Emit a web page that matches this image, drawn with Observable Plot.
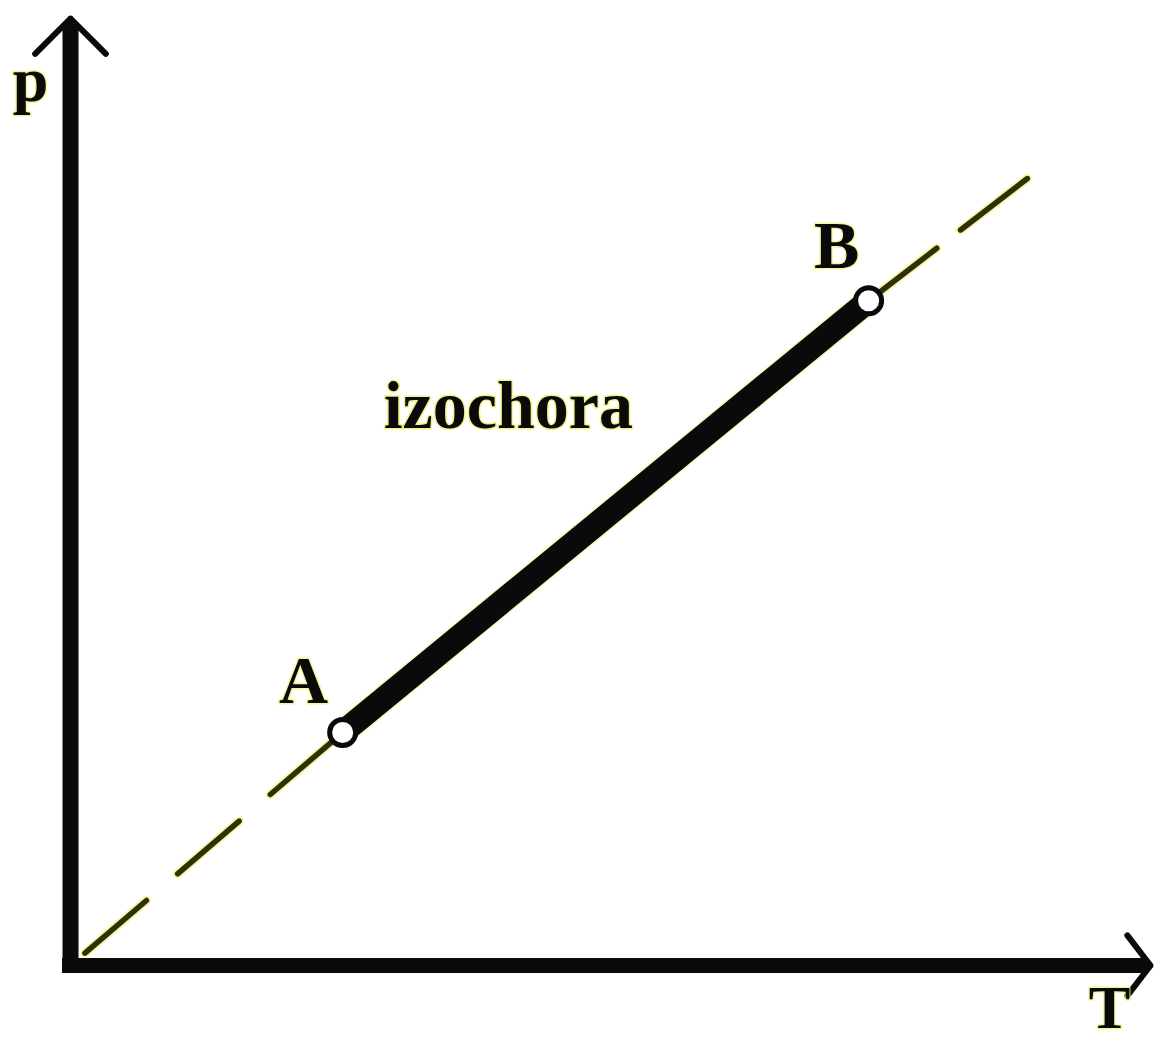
<!DOCTYPE html>
<html>
<head>
<meta charset="utf-8">
<script src="https://cdn.jsdelivr.net/npm/d3@7"></script>
<script src="https://cdn.jsdelivr.net/npm/@observablehq/plot@0.6"></script>
<style>
  html, body { margin: 0; padding: 0; background: #ffffff; }
  #chart svg { display: block; }
</style>
</head>
<body>
<div id="chart"></div>
<script>
// --- data (schematic p–T diagram, arbitrary units) ---
const isoT = [0, 2.52, 7.39, 8.86];      // isochore: origin, A, B, end of dashed line
const isoP = [0, 2.46, 7.02, 8.31];
const pointNames = ["A", "B"];
const pointT = [2.52, 7.39];
const pointP = [2.46, 7.02];
const curveLabel = ["izochora"];
const curveLabelT = [2.90];
const curveLabelP = [5.68];
const axisNames = ["p", "T"];
const axisMax = 10;

const iso = isoT.map((t, i) => ({T: t, p: isoP[i]}));
const lower = iso.slice(0, 2);
const middle = iso.slice(1, 3);
const upper = iso.slice(2, 4);
const points = pointNames.map((n, i) => ({name: n, T: pointT[i], p: pointP[i]}));
const labels = curveLabel.map((s, i) => ({text: s, T: curveLabelT[i], p: curveLabelP[i]}));

const ink = "#0a0a0a";
const olive = "#303008";
const glow = "#eeee58";
const font = "'Liberation Serif', 'Times New Roman', serif";

const textStyle = {fontWeight: "bold", fill: ink, stroke: glow, strokeWidth: 3, strokeOpacity: 0.6,
  paintOrder: "stroke", lineAnchor: "bottom"};

const chart = Plot.plot({
  width: 1156,
  height: 1043,
  marginLeft: 70,
  marginRight: 6,
  marginTop: 18,
  marginBottom: 78,
  style: {background: "#ffffff", fontFamily: font},
  x: {domain: [0, axisMax], axis: null},
  y: {domain: [0, axisMax], axis: null},
  marks: [
    // dashed isochore (glow + core)
    Plot.line(lower, {x: "T", y: "p", stroke: glow, strokeWidth: 9, strokeOpacity: 0.55, strokeDasharray: "81,41", strokeDashoffset: 103}),
    Plot.line(lower, {x: "T", y: "p", stroke: olive, strokeWidth: 5.5, strokeDasharray: "81,41", strokeDashoffset: 103}),
    Plot.line(upper, {x: "T", y: "p", stroke: glow, strokeWidth: 9, strokeOpacity: 0.55, strokeDasharray: "86,30"}),
    Plot.line(upper, {x: "T", y: "p", stroke: olive, strokeWidth: 5.5, strokeDasharray: "86,30"}),
    // thick process segment A–B
    Plot.line(middle, {x: "T", y: "p", stroke: glow, strokeWidth: 27, strokeOpacity: 0.4}),
    Plot.line(middle, {x: "T", y: "p", stroke: ink, strokeWidth: 24}),
    // axis arrowheads
    Plot.arrow([0], {x1: 0, y1: 0, x2: 0, y2: axisMax, stroke: ink, strokeWidth: 6, headLength: 12.5, headAngle: 90}),
    Plot.arrow([0], {x1: 0, y1: 0, x2: axisMax, y2: 0, stroke: ink, strokeWidth: 6, headLength: 9.5, headAngle: 105}),
    // axes
    Plot.ruleX([0], {y1: 0, y2: axisMax, stroke: ink, strokeWidth: 16, insetBottom: -8}),
    Plot.ruleY([0], {x1: 0, x2: axisMax, stroke: ink, strokeWidth: 15, insetLeft: -8, insetRight: 3}),
    // state points
    Plot.dot(points, {x: "T", y: "p", r: 13, fill: "#ffffff", stroke: ink, strokeWidth: 5}),
    // point labels
    Plot.text(points.filter(d => d.name === "A"), {x: "T", y: "p", text: "name", dx: -39, dy: -30,
      fontSize: 68, textAnchor: "middle", ...textStyle}),
    Plot.text(points.filter(d => d.name === "B"), {x: "T", y: "p", text: "name", dx: -32, dy: -33,
      fontSize: 68, textAnchor: "middle", ...textStyle}),
    // curve label
    Plot.text(labels, {x: "T", y: "p", text: "text", fontSize: 68, textAnchor: "start", ...textStyle, strokeOpacity: 0.7}),
    // axis names
    Plot.text([axisNames[0]], {x: 0, y: axisMax, text: d => d, dx: -40, dy: 82, fontSize: 64, textAnchor: "middle", ...textStyle}),
    Plot.text([axisNames[1]], {x: axisMax, y: 0, text: d => d, dx: -41, dy: 62, fontSize: 62, textAnchor: "middle", ...textStyle})
  ]
});

document.getElementById("chart").append(chart);
</script>
</body>
</html>
